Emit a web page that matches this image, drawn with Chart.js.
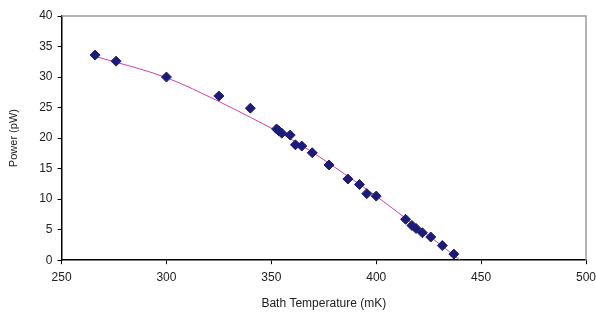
<!DOCTYPE html>
<html lang="en">
<head>
    <meta charset="UTF-8">
    <title>Power vs Bath Temperature</title>
    <script src="https://cdn.jsdelivr.net/npm/chart.js"></script>
    <style>
        html, body {
            margin: 0;
            padding: 0;
            background: #ffffff;
        }
        .wrap {
            width: 596px;
            height: 322px;
        }
    </style>
</head>
<body>
    <div class="wrap">
        <canvas id="powerChart"></canvas>
    </div>

    <script>
        // measured points (mK, pW)
        var bathTemp = [266, 276, 300, 325, 340, 352.5, 353.5, 355, 359, 361.5, 364.5, 369.5, 377.5, 386.5, 392, 395.5, 400, 414, 417, 419, 422, 426, 431.5, 437];
        var power = [33.6, 32.6, 30.0, 26.9, 24.9, 21.5, 21.2, 20.8, 20.5, 18.9, 18.7, 17.6, 15.6, 13.3, 12.4, 10.9, 10.5, 6.7, 5.7, 5.2, 4.5, 3.8, 2.4, 1.0];

        // fitted trend line
        var fitTemp = [266, 300, 325, 340, 355, 370, 385, 400, 415, 430, 440];
        var fitPower = [33.4, 29.9, 26.0, 23.4, 20.7, 17.6, 14.1, 10.5, 6.6, 2.7, 0];

        var xTicks = [250, 300, 350, 400, 450, 500];
        var yTicks = [0, 5, 10, 15, 20, 25, 30, 35, 40];

        function toXY(xs, ys) {
            return xs.map(function (x, i) { return { x: x, y: ys[i] }; });
        }

        // thin grey frame on top and right like the original
        var frame = {
            id: 'frame',
            afterDraw: function (chart) {
                var a = chart.chartArea, c = chart.ctx;
                c.save();
                c.strokeStyle = '#9a9a9a';
                c.lineWidth = 1.5;
                c.beginPath();
                c.moveTo(a.left, a.top);
                c.lineTo(a.right, a.top);
                c.lineTo(a.right, a.bottom);
                c.stroke();
                c.restore();
            }
        };

        var ctx = document.getElementById('powerChart').getContext('2d');
        new Chart(ctx, {
            type: 'scatter',
            data: {
                datasets: [{
                    label: 'Fit',
                    type: 'line',
                    data: toXY(fitTemp, fitPower),
                    borderColor: '#d040b0',
                    borderWidth: 1,
                    pointRadius: 0,
                    tension: 0.4,
                    cubicInterpolationMode: 'monotone',
                    order: 2
                }, {
                    label: 'Power',
                    data: toXY(bathTemp, power),
                    pointStyle: 'rectRot',
                    pointRadius: 5,
                    backgroundColor: '#1c1c78',
                    borderColor: '#1c1c78',
                    order: 1
                }]
            },
            options: {
                responsive: true,
                maintainAspectRatio: false,
                animation: false,
                layout: {
                    padding: { top: 16, right: 0, left: 3, bottom: 7 }
                },
                plugins: {
                    legend: { display: false },
                    tooltip: { enabled: false }
                },
                scales: {
                    x: {
                        type: 'linear',
                        min: 250,
                        max: 500,
                        afterBuildTicks: function (axis) {
                            axis.ticks = xTicks.map(function (v) { return { value: v }; });
                        },
                        // the "500" label runs up to the window edge in the original
                        afterFit: function (axis) {
                            axis.paddingRight = 10;
                        },
                        grid: {
                            display: true,
                            drawOnChartArea: false,
                            drawTicks: true,
                            tickLength: 4,
                            color: '#000'
                        },
                        border: { color: '#000', width: 1.5 },
                        ticks: {
                            color: '#222',
                            font: { family: 'Liberation Sans', size: 12 },
                            padding: 6
                        },
                        title: {
                            display: true,
                            text: 'Bath Temperature (mK)',
                            color: '#222',
                            font: { family: 'Liberation Sans', size: 12 },
                            padding: { top: 6 }
                        }
                    },
                    y: {
                        type: 'linear',
                        min: 0,
                        max: 40,
                        afterBuildTicks: function (axis) {
                            axis.ticks = yTicks.map(function (v) { return { value: v }; });
                        },
                        grid: {
                            display: true,
                            drawOnChartArea: false,
                            drawTicks: true,
                            tickLength: 4,
                            color: '#000'
                        },
                        border: { color: '#000', width: 1.5 },
                        ticks: {
                            color: '#222',
                            font: { family: 'Liberation Sans', size: 12 },
                            padding: 5
                        },
                        title: {
                            display: true,
                            text: 'Power (pW)',
                            color: '#222',
                            font: { family: 'Liberation Sans', size: 11 },
                            padding: { bottom: 14 }
                        }
                    }
                }
            },
            plugins: [frame]
        });
    </script>
</body>
</html>
